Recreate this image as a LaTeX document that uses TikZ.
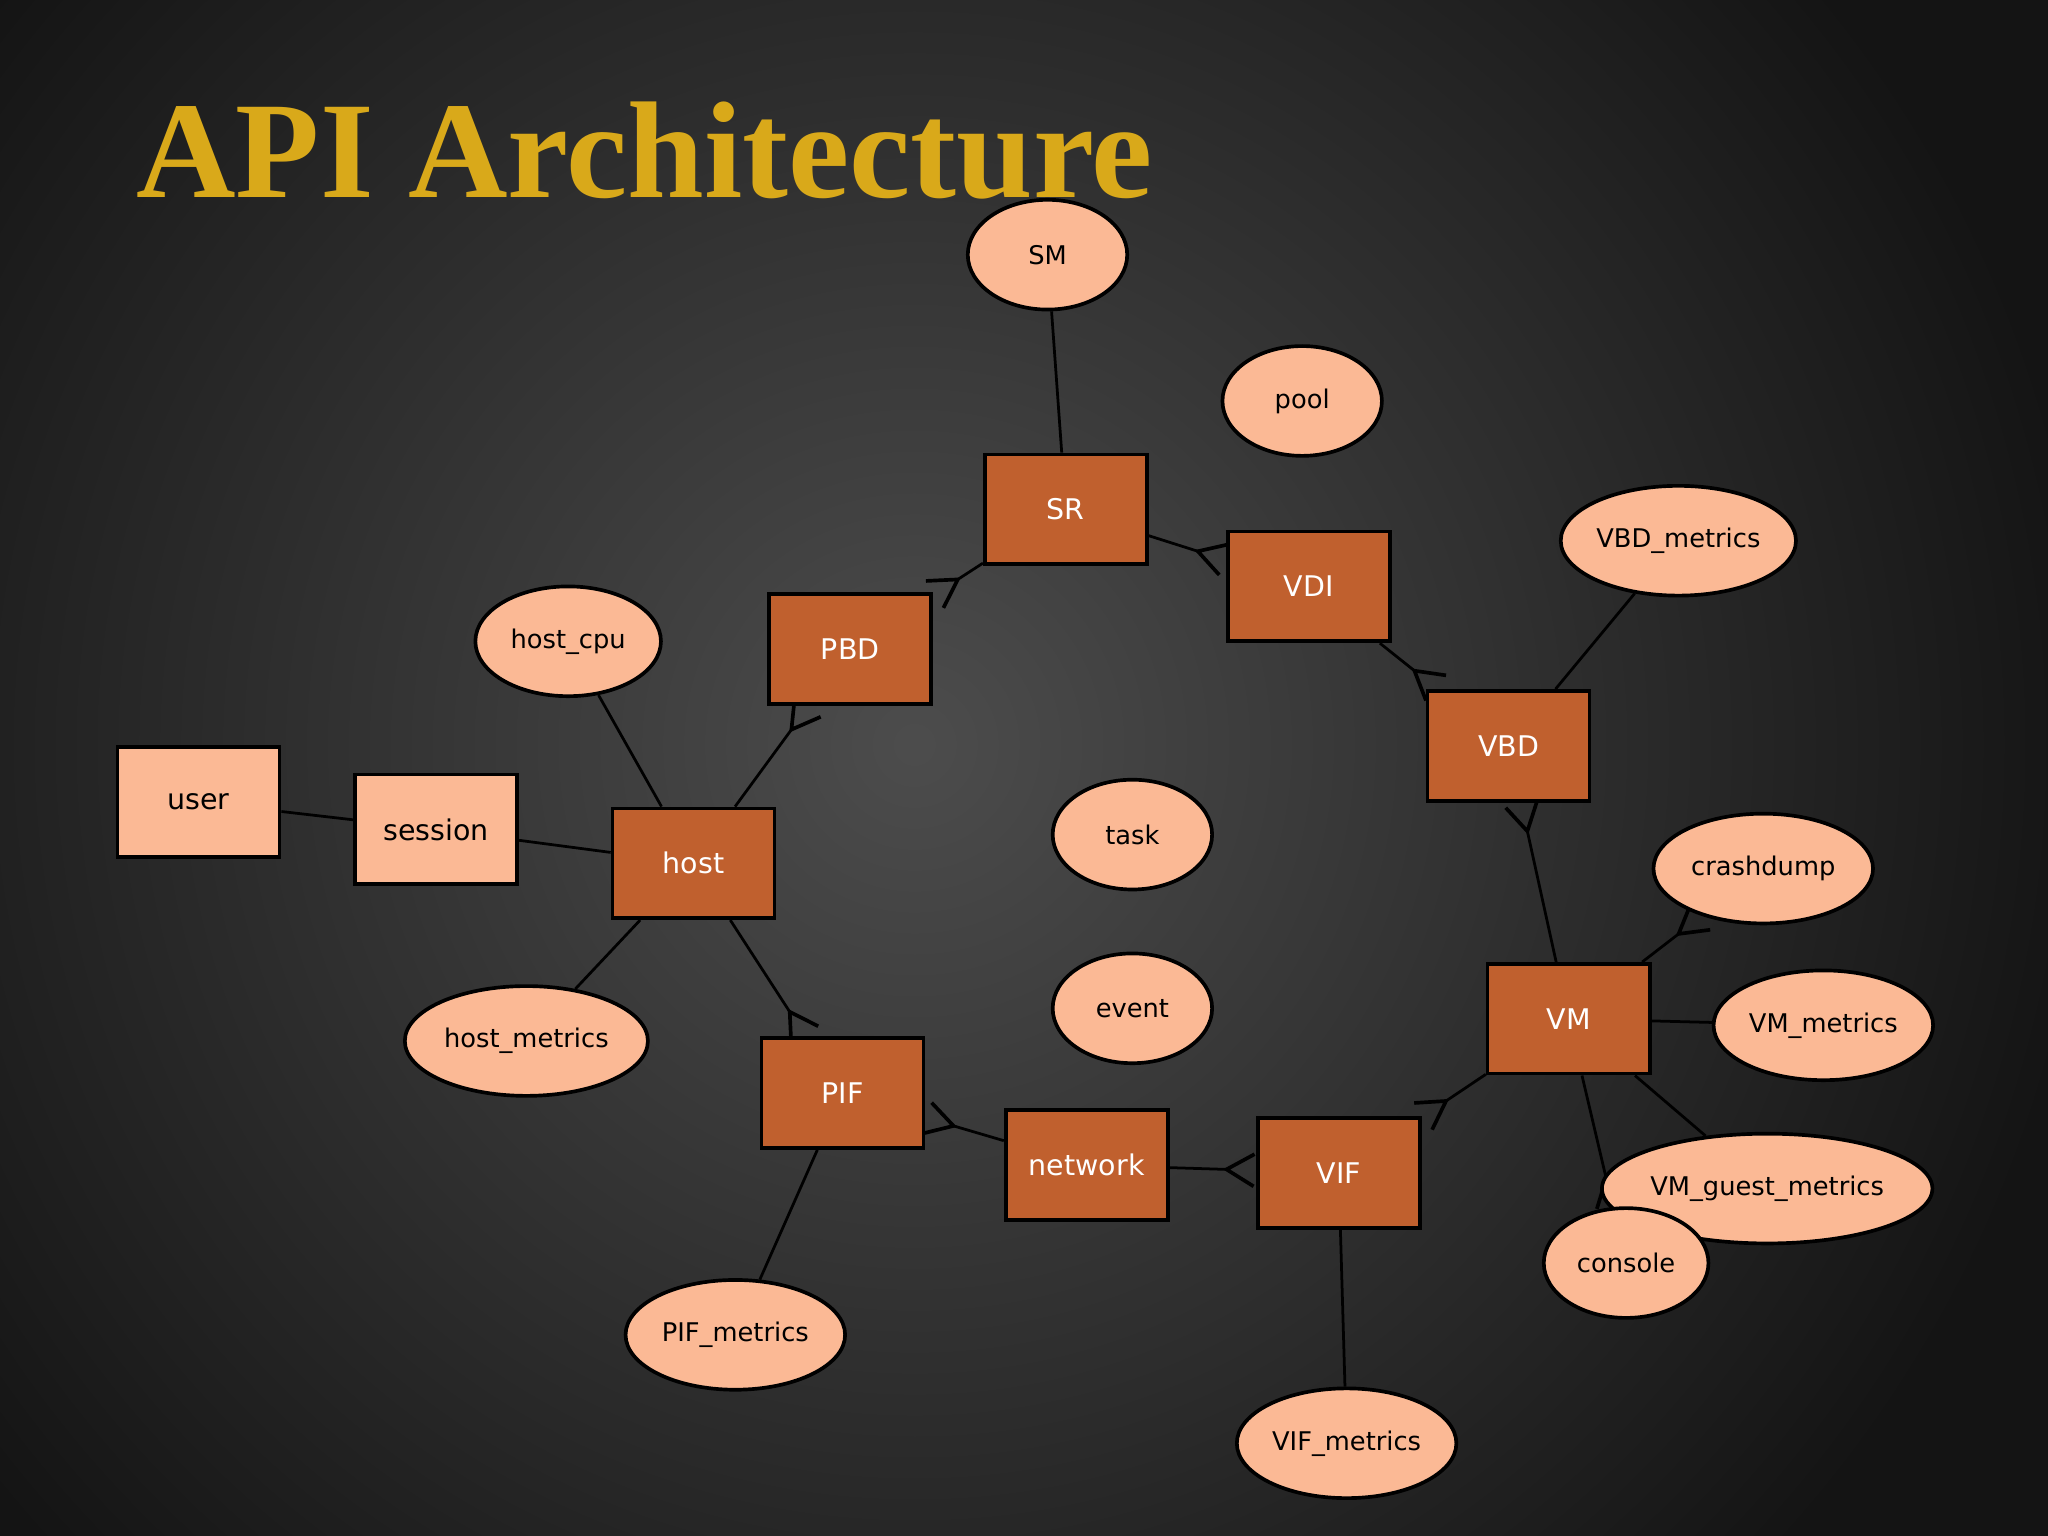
\documentclass[tikz,border=0pt]{standalone}
\usepackage{fontspec}
\setsansfont{DejaVu Sans}
\setmainfont{Liberation Serif}
\usetikzlibrary{shapes.geometric,arrows.meta}
\pgfdeclarelayer{bg}
\pgfdeclarelayer{edges}
\pgfsetlayers{bg,edges,main}
\definecolor{dark}{HTML}{C0602E}
\definecolor{light}{HTML}{FBB995}
\definecolor{gold}{HTML}{D9A91A}
\tikzset{
 box/.style={draw=black,line width=0.8pt,minimum width=1.24cm,minimum height=0.84cm,font=\sffamily\fontsize{6.2}{7}\selectfont,inner sep=0pt},
 dbox/.style={box,fill=dark,text=white},
 lbox/.style={box,fill=light,text=black},
 ell/.style={ellipse,draw=black,line width=0.8pt,fill=light,minimum height=0.84cm,inner sep=0pt,font=\sffamily\fontsize{5.6}{7}\selectfont},
 link/.style={draw=black,line width=0.6pt},
 crow/.style={link,-{Straight Barb[reversed,length=6pt,width=7pt,line width=0.8pt]}}
}
\begin{document}
\begin{tikzpicture}[x=0.01cm,y=-0.01cm]
\useasboundingbox (0,0) rectangle (1568,1176);
\begin{pgfonlayer}{bg}
\fill[black!92] (0,0) rectangle (1568,1176);
\shade[inner color=black!70,outer color=black!92] (700,570) circle (900);
\end{pgfonlayer}
\node[anchor=west,text=gold,font=\bfseries\fontsize{30}{34}\selectfont] (title) at (92,115) {API Architecture};
\node[lbox] (user) at (152,614) {user};
\node[lbox] (session) at (334,635) {session};
\node[dbox] (host) at (531,661) {host};
\node[dbox] (PBD) at (651,497) {PBD};
\node[dbox] (SR) at (816,390) {SR};
\node[dbox] (VDI) at (1002,449) {VDI};
\node[dbox] (VBD) at (1155,571) {VBD};
\node[dbox] (VM) at (1201,780) {VM};
\node[dbox] (PIF) at (645,837) {PIF};
\node[dbox] (network) at (832,892) {network};
\node[dbox] (VIF) at (1025,898) {VIF};
\node[ell,minimum width=1.22cm] (SM) at (802,195) {SM};
\node[ell,minimum width=1.22cm] (pool) at (997,307) {pool};
\node[ell,minimum width=1.42cm] (hostcpu) at (435,491) {host\_cpu};
\node[ell,minimum width=1.86cm] (hostmetrics) at (403,797) {host\_metrics};
\node[ell,minimum width=1.22cm] (task) at (867,639) {task};
\node[ell,minimum width=1.22cm] (event) at (867,772) {event};
\node[ell,minimum width=1.80cm] (VBDm) at (1285,414) {VBD\_metrics};
\node[ell,minimum width=1.68cm] (crash) at (1350,665) {crashdump};
\node[ell,minimum width=1.68cm] (VMm) at (1396,785) {VM\_metrics};
\node[ell,minimum width=2.40cm] (VMg) at (1353,910) {VM\_guest\_metrics};
\node[ell,minimum width=1.26cm] (console) at (1245,967) {console};
\node[ell,minimum width=1.68cm] (PIFm) at (563,1022) {PIF\_metrics};
\node[ell,minimum width=1.68cm] (VIFm) at (1031,1105) {VIF\_metrics};
\begin{pgfonlayer}{edges}
\draw[link] (SM) -- (SR);
\draw[link] (hostcpu) -- (host);
\draw[link] (host) -- (hostmetrics);
\draw[link] (user) -- (session);
\draw[link] (session) -- (host);
\draw[link] (VBDm) -- (VBD);
\draw[link] (VM) -- (VMm);
\draw[link] (VM) -- (VMg);
\draw[link] (PIF) -- (PIFm);
\draw[link] (VIF) -- (VIFm);
\draw[crow] (SR) -- (PBD);
\draw[crow] (host) -- (PBD);
\draw[crow] (SR) -- (VDI);
\draw[crow] (VDI) -- (VBD);
\draw[crow] (VM) -- (VBD);
\draw[crow] (host) -- (PIF);
\draw[crow] (network) -- (PIF);
\draw[crow] (network) -- (VIF);
\draw[crow] (VM) -- (VIF);
\draw[crow] (VM) -- (crash);
\draw[crow] (VM) -- (console);
\end{pgfonlayer}
\end{tikzpicture}
\end{document}
